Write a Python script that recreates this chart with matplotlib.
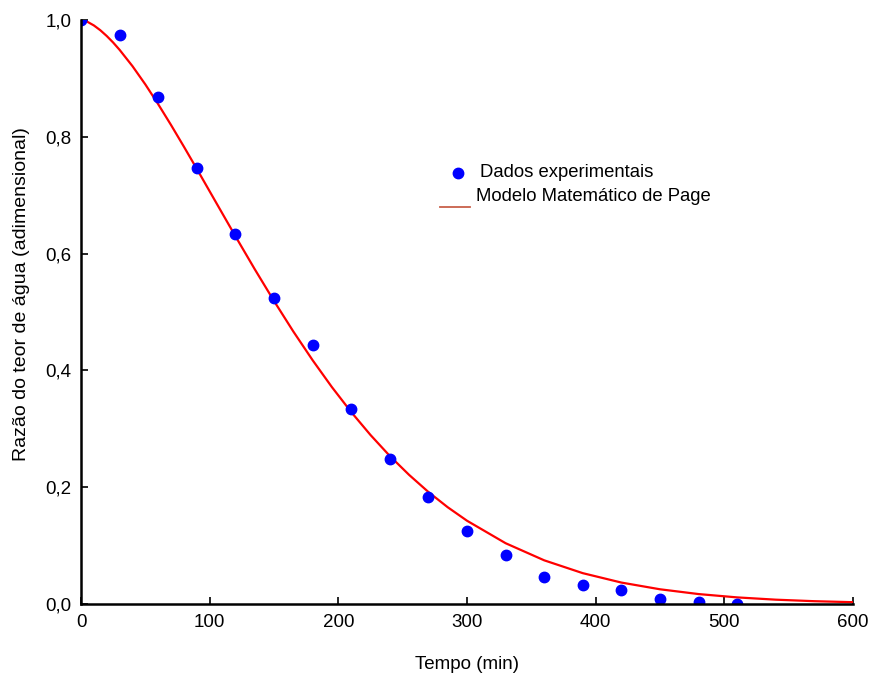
import matplotlib
matplotlib.use("Agg")
import matplotlib.pyplot as plt
from matplotlib.lines import Line2D

plt.rcParams['font.family'] = ['Liberation Sans', 'DejaVu Sans']

# Experimental drying data
tempo_exp = [0, 30, 60, 90, 120, 150, 180, 210, 240, 270, 300, 330, 360, 390, 420, 450, 480, 510]
razao_exp = [1.000, 0.974, 0.868, 0.747, 0.634, 0.524, 0.443, 0.334, 0.248, 0.183, 0.1255, 0.0844,
             0.046, 0.0325, 0.0233, 0.009, 0.003, 0.000]

# Page model curve
tempo_mod = [0, 5, 10, 15, 20, 25, 30, 40, 50, 60, 70, 80, 90, 105, 120, 135, 150, 165, 180, 195,
             210, 225, 240, 255, 270, 285, 300, 330, 360, 390, 420, 450, 480, 510, 540, 570, 600]
razao_mod = [1.0, 0.9969, 0.9907, 0.9825, 0.9726, 0.9614, 0.9489, 0.9210, 0.8897, 0.8558, 0.8201,
             0.7830, 0.7451, 0.6874, 0.6298, 0.5734, 0.5189, 0.4667, 0.4175, 0.3714, 0.3287,
             0.2894, 0.2535, 0.2211, 0.1918, 0.1657, 0.1426, 0.1041, 0.0748, 0.0528, 0.0367,
             0.0252, 0.0170, 0.0113, 0.0074, 0.0048, 0.0031]

x_ticks = [0, 100, 200, 300, 400, 500, 600]
y_ticks = [0.0, 0.2, 0.4, 0.6, 0.8, 1.0]
y_ticklabels = ['0,0', '0,2', '0,4', '0,6', '0,8', '1,0']

W, H = 871, 675
fig = plt.figure(figsize=(W / 100, H / 100), dpi=100)
ax = fig.add_axes([81 / W, 1 - 604 / H, (853 - 81) / W, (604 - 20) / H])

ax.plot(tempo_mod, razao_mod, color='#ff0000', lw=1.6, zorder=2)
ax.plot(tempo_exp, razao_exp, 'o', color='#0000ff', ms=7.5, zorder=3)

ax.set_xlim(0, 600)
ax.set_ylim(0, 1.0)
ax.set_xticks(x_ticks)
ax.set_yticks(y_ticks)
ax.set_yticklabels(y_ticklabels)
for s in ['top', 'right']:
    ax.spines[s].set_visible(False)
for s in ['left', 'bottom']:
    ax.spines[s].set_linewidth(1.8)
    ax.spines[s].set_zorder(4)
ax.tick_params(direction='in', length=5, width=1.2, labelsize=13.5, colors='black', pad=7)

ax.set_xlabel('Tempo (min)', fontsize=13.5, labelpad=18)
ax.set_ylabel('Razão do teor de água (adimensional)', fontsize=14)
ax.yaxis.set_label_coords(-0.066, 0.53)

# Legend, drawn in figure pixel positions
def fx(px):
    return px / W

def fy(py):
    return 1 - py / H

fig.add_artist(Line2D([fx(458)], [fy(173)], marker='o', color='#0000ff', ms=7.5, ls='none'))
fig.text(fx(480), fy(173), 'Dados experimentais', fontsize=13.3, va='center', ha='left')
fig.add_artist(Line2D([fx(440), fx(470)], [fy(207), fy(207)], color='#c8604a', lw=1.3))
fig.text(fx(476), fy(197), 'Modelo Matemático de Page', fontsize=13.3, va='center', ha='left')

fig.savefig('out.png', dpi=100)
